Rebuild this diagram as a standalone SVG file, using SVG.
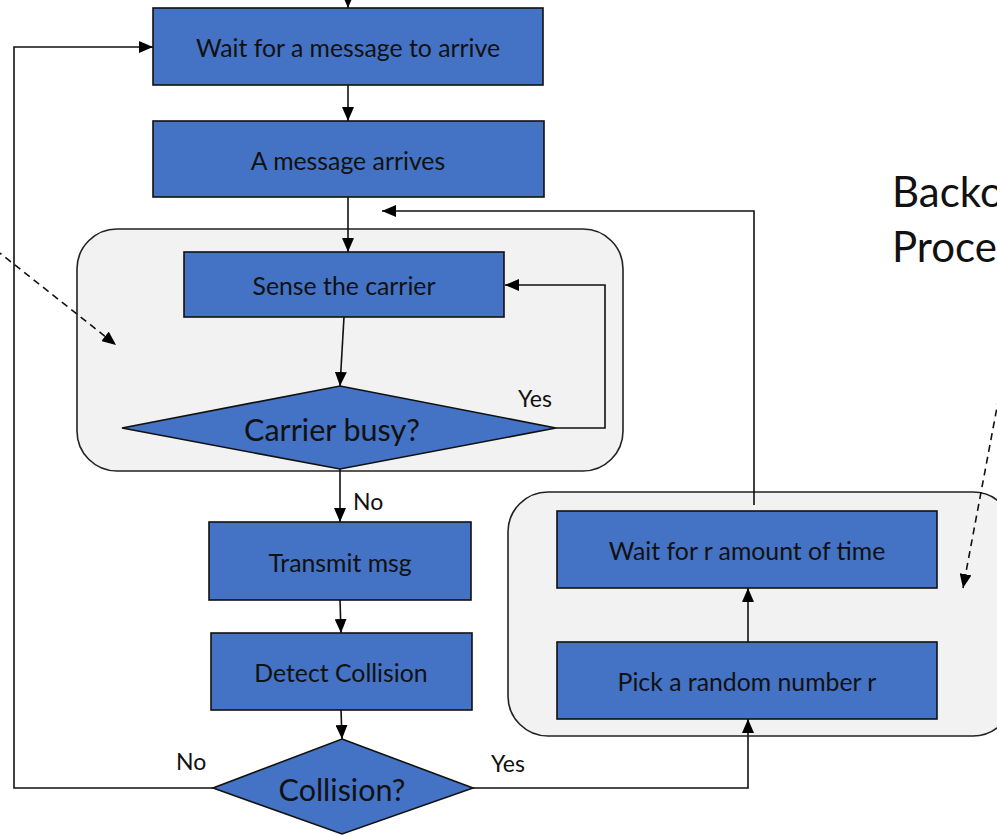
<svg xmlns="http://www.w3.org/2000/svg" width="997" height="835" viewBox="0 0 997 835">
  <style>
    .step { fill: #4472C4; stroke: #111; stroke-width: 1.6; }
    .group { fill: #F2F2F2; stroke: #222; stroke-width: 1.6; }
    .lbl { font-family: Lato, "Open Sans", "Liberation Sans", sans-serif; fill: #111; text-anchor: middle; dominant-baseline: central; }
    .box-txt { font-size: 24.8px; }
    .dec-txt { font-size: 30.5px; }
    .edge-txt { font-family: Lato, "Open Sans", "Liberation Sans", sans-serif; font-size: 23px; fill: #111; }
    .title { font-family: Lato, "Open Sans", "Liberation Sans", sans-serif; font-size: 42px; fill: #111; }
    .wire { fill: none; stroke: #111; stroke-width: 1.6; }
    .arrow { marker-end: url(#head); }
    .dash { fill: none; stroke: #111; stroke-width: 1.6; stroke-dasharray: 7 5; marker-end: url(#head); }
  </style>
  <defs>
    <marker id="head" viewBox="0 0 14 12" refX="14" refY="6" markerWidth="14" markerHeight="12" markerUnits="userSpaceOnUse" orient="auto">
      <path d="M0,0 L14,6 L0,12 Z" fill="#000"/>
    </marker>
  </defs>

  <rect width="997" height="835" fill="#fff"/>

  <!-- grouping panels -->
  <g id="carrier-sense-group">
    <rect class="group" x="77" y="229" width="546" height="242" rx="40" ry="40"/>
  </g>
  <g id="backoff-group">
    <rect class="group" x="508" y="492" width="505" height="244" rx="40" ry="40"/>
  </g>

  <!-- connectors -->
  <g id="connectors">
    <path class="wire arrow" d="M348,-4 L348,8"/>
    <path class="wire arrow" d="M348,85 L348,121"/>
    <path class="wire arrow" d="M348,197 L348,252"/>
    <path class="wire arrow" d="M344,317 L340,386"/>
    <path class="wire arrow" d="M556,428 L605,428 L605,285 L505,285"/>
    <path class="wire arrow" d="M340,469 L340,522"/>
    <path class="wire arrow" d="M340,600 L341,633"/>
    <path class="wire arrow" d="M341,710 L342,739"/>
    <path class="wire arrow" d="M213,788 L14,788 L14,47 L153,47"/>
    <path class="wire arrow" d="M473,788 L748,788 L748,719"/>
    <path class="wire arrow" d="M748,642 L748,588"/>
    <path class="wire arrow" d="M754,505 L754,211 L382,211"/>
    <path class="dash" d="M-4,250 L116,345"/>
    <path class="dash" d="M1001,386 L963,588"/>
  </g>

  <!-- edge labels -->
  <text class="edge-txt" x="518" y="407">Yes</text>
  <text class="edge-txt" x="353" y="510">No</text>
  <text class="edge-txt" x="176" y="770">No</text>
  <text class="edge-txt" x="491" y="772">Yes</text>

  <!-- process steps -->
  <g id="wait-message">
    <rect class="step" x="153" y="8" width="390" height="77"/>
    <text class="lbl box-txt" x="348" y="47">Wait for a message to arrive</text>
  </g>
  <g id="message-arrives">
    <rect class="step" x="153" y="121" width="391" height="76"/>
    <text class="lbl box-txt" x="348" y="160">A message arrives</text>
  </g>
  <g id="sense-carrier">
    <rect class="step" x="184" y="252" width="320" height="65"/>
    <text class="lbl box-txt" x="344" y="285">Sense the carrier</text>
  </g>
  <g id="carrier-busy">
    <polygon class="step" points="340,386 556,428 340,469 122,428"/>
    <text class="lbl dec-txt" x="332" y="429">Carrier busy?</text>
  </g>
  <g id="transmit">
    <rect class="step" x="209" y="522" width="262" height="78"/>
    <text class="lbl box-txt" x="340" y="562">Transmit msg</text>
  </g>
  <g id="detect-collision">
    <rect class="step" x="211" y="633" width="261" height="77"/>
    <text class="lbl box-txt" x="341" y="672">Detect Collision</text>
  </g>
  <g id="collision">
    <polygon class="step" points="342,739 473,788 342,834 213,788"/>
    <text class="lbl dec-txt" x="342" y="789">Collision?</text>
  </g>
  <g id="wait-r">
    <rect class="step" x="557" y="511" width="380" height="77"/>
    <text class="lbl box-txt" x="747" y="550">Wait for r amount of time</text>
  </g>
  <g id="pick-r">
    <rect class="step" x="557" y="642" width="380" height="77"/>
    <text class="lbl box-txt" x="747" y="681">Pick a random number r</text>
  </g>

  <!-- backoff caption -->
  <g id="backoff-caption">
    <text class="title" x="892" y="207">Backo</text>
    <text class="title" x="892" y="262">Proce</text>
  </g>
</svg>
